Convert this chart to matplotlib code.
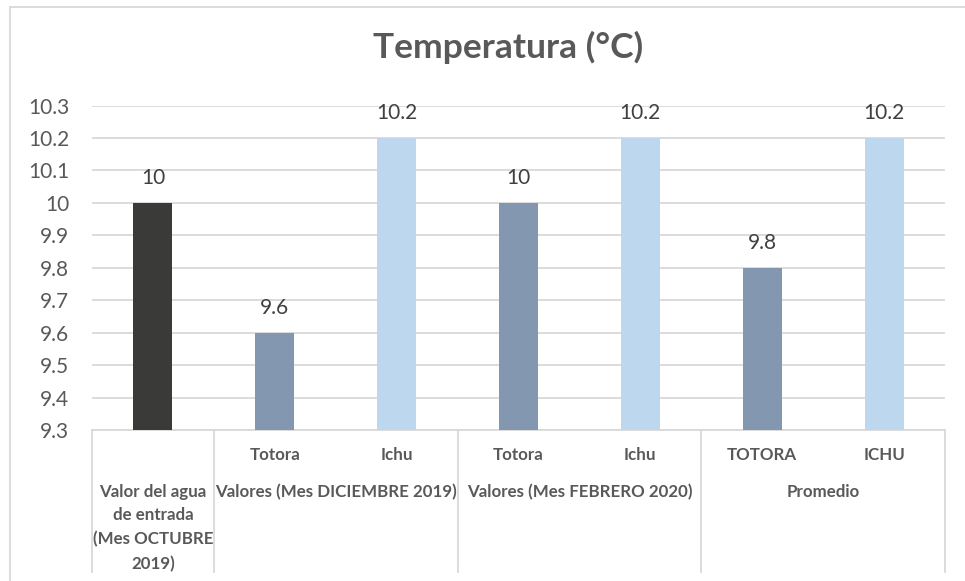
import numpy as np
import matplotlib.pyplot as plt
from matplotlib.lines import Line2D

plt.rcParams['font.family'] = ['Lato', 'DejaVu Sans']

# datos del grafico
valores = [10, 9.6, 10.2, 10, 10.2, 9.8, 10.2]
sub_etiquetas = ['', 'Totora', 'Ichu', 'Totora', 'Ichu', 'TOTORA', 'ICHU']
grupos = ['Valor del agua\nde entrada\n(Mes OCTUBRE\n2019)',
          'Valores (Mes DICIEMBRE 2019)',
          'Valores (Mes FEBRERO 2020)',
          'Promedio']
grupo_centros = [0, 1.5, 3.5, 5.5]
divisiones = [-0.5, 0.5, 2.5, 4.5, 6.5]
colores = ['#3a3a38', '#8497b0', '#bdd7ee', '#8497b0', '#bdd7ee', '#8497b0', '#bdd7ee']
yticks = [9.3, 9.4, 9.5, 9.6, 9.7, 9.8, 9.9, 10, 10.1, 10.2, 10.3]

gris_texto = '#595959'
gris_linea = '#d9d9d9'

fig = plt.figure(figsize=(9.65, 5.81), dpi=100)
ax = fig.add_axes([92/965, 1 - 430/581, (945-92)/965, (430-105.5)/581])

x = np.arange(len(valores))
ax.bar(x, valores, width=0.32, color=colores, zorder=3)
ax.set_xlim(-0.5, 6.5)
ax.set_ylim(9.3, 10.3)
ax.set_yticks(yticks)
ax.set_yticklabels([('%g' % v) for v in yticks], fontsize=15, color=gris_texto)
ax.yaxis.grid(True, color=gris_linea, linewidth=1.3, zorder=0)
ax.tick_params(axis='y', length=0, pad=16.5)
ax.tick_params(axis='x', length=0, labelbottom=False)
for s in ['top', 'right', 'left']:
    ax.spines[s].set_visible(False)
ax.spines['bottom'].set_color(gris_linea)
ax.spines['bottom'].set_linewidth(1.3)

# etiquetas de datos
for xi, v in zip(x, valores):
    ax.annotate('%g' % v, (xi, v), xytext=(0, 18), textcoords='offset points',
                ha='center', va='center', fontsize=15, color='#404040')

# eje de categorias en dos niveles
tr = ax.get_xaxis_transform()
for xi, t in zip(x, sub_etiquetas):
    ax.text(xi, -0.077, t, transform=tr, ha='center', va='center',
            fontsize=12.2, fontweight='bold', color=gris_texto)
for xc, g in zip(grupo_centros, grupos):
    ax.text(xc, -0.165, g, transform=tr, ha='center', va='top',
            fontsize=12.2, fontweight='bold', color=gris_texto, linespacing=1.6)
for d in divisiones:
    ax.plot([d, d], [0, -0.437], transform=tr, color=gris_linea,
            linewidth=1.3, clip_on=False)

# titulo
fig.text(0.526, 1 - 47/581, 'Temperatura (°C)', ha='center', va='center',
         fontsize=25.5, fontweight='bold', color=gris_texto)

# borde del area del grafico
fig.add_artist(Line2D([10/965, 10/965], [0, 1 - 7/581], color=gris_linea, linewidth=1.3))
fig.add_artist(Line2D([10/965, 1], [1 - 7/581, 1 - 7/581], color=gris_linea, linewidth=1.3))

fig.savefig('out.png', dpi=100)
